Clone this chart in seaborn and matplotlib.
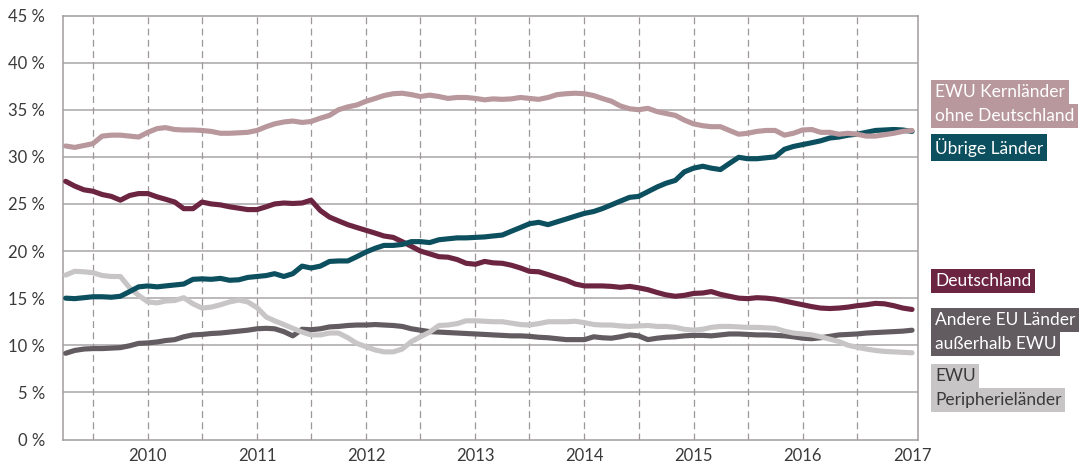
import numpy as np
import pandas as pd
import matplotlib
matplotlib.use("Agg")
import matplotlib.pyplot as plt
import matplotlib.dates as mdates
import seaborn as sns

# ---------------- data (monthly, Apr 2009 - Jan 2017, % share) ----------------
start_month = "2009-04-01"
n_months = 94

kern = [31.15, 31.0, 31.2, 31.4, 32.2, 32.3, 32.3, 32.2, 32.1, 32.6,
        33.0, 33.1, 32.9, 32.85, 32.85, 32.8, 32.7, 32.5, 32.5, 32.55,
        32.6, 32.8, 33.2, 33.5, 33.7, 33.8, 33.65, 33.75, 34.1, 34.4,
        35.0, 35.3, 35.5, 35.9, 36.2, 36.5, 36.7, 36.75, 36.6, 36.4,
        36.55, 36.4, 36.2, 36.3, 36.3, 36.2, 36.05, 36.15, 36.1, 36.15,
        36.3, 36.2, 36.1, 36.3, 36.6, 36.7, 36.75, 36.7, 36.5, 36.2,
        35.9, 35.4, 35.1, 35.0, 35.15, 34.8, 34.6, 34.4, 33.9, 33.5,
        33.3, 33.2, 33.2, 32.8, 32.4, 32.5, 32.7, 32.8, 32.8, 32.3,
        32.5, 32.85, 32.9, 32.6, 32.6, 32.4, 32.5, 32.4, 32.2, 32.2,
        32.35, 32.5, 32.7, 32.8]

uebrige = [15.0, 14.95, 15.05, 15.15, 15.15, 15.1, 15.2, 15.7, 16.2, 16.3,
           16.2, 16.3, 16.4, 16.5, 17.0, 17.05, 17.0, 17.1, 16.9, 16.95,
           17.2, 17.3, 17.4, 17.6, 17.3, 17.6, 18.4, 18.2, 18.4, 18.9,
           18.95, 18.95, 19.4, 19.9, 20.3, 20.6, 20.6, 20.7, 21.0, 21.0,
           20.9, 21.2, 21.3, 21.4, 21.4, 21.45, 21.5, 21.6, 21.7, 22.1,
           22.5, 22.9, 23.05, 22.8, 23.1, 23.4, 23.7, 24.0, 24.2, 24.5,
           24.9, 25.3, 25.7, 25.8, 26.3, 26.8, 27.2, 27.5, 28.4, 28.8,
           29.0, 28.8, 28.65, 29.3, 29.95, 29.8, 29.8, 29.9, 30.0, 30.8,
           31.1, 31.3, 31.5, 31.7, 32.0, 32.1, 32.3, 32.4, 32.6, 32.8,
           32.85, 32.9, 32.85, 32.7]

deutschland = [27.4, 26.9, 26.5, 26.35, 26.0, 25.8, 25.4, 25.9, 26.1, 26.1,
               25.75, 25.5, 25.2, 24.5, 24.5, 25.2, 25.0, 24.9, 24.7, 24.55,
               24.4, 24.4, 24.7, 25.0, 25.1, 25.05, 25.1, 25.4, 24.3, 23.6,
               23.2, 22.8, 22.5, 22.2, 21.9, 21.6, 21.45, 21.0, 20.5, 20.0,
               19.7, 19.4, 19.35, 19.1, 18.7, 18.6, 18.9, 18.75, 18.7, 18.5,
               18.2, 17.85, 17.8, 17.5, 17.2, 16.9, 16.5, 16.3, 16.3, 16.3,
               16.25, 16.15, 16.25, 16.1, 15.9, 15.6, 15.35, 15.2, 15.3, 15.5,
               15.55, 15.7, 15.4, 15.2, 15.0, 14.95, 15.05, 15.0, 14.9, 14.7,
               14.5, 14.3, 14.1, 13.95, 13.9, 13.95, 14.05, 14.2, 14.3, 14.45,
               14.4, 14.2, 13.95, 13.8]

andere_eu = [9.15, 9.45, 9.6, 9.65, 9.65, 9.7, 9.75, 9.95, 10.2, 10.25,
             10.35, 10.5, 10.6, 10.9, 11.1, 11.15, 11.25, 11.3, 11.4, 11.5,
             11.6, 11.75, 11.8, 11.75, 11.45, 11.0, 11.7, 11.65, 11.75, 11.95,
             12.0, 12.1, 12.15, 12.15, 12.2, 12.15, 12.1, 12.0, 11.75, 11.6,
             11.45, 11.4, 11.35, 11.3, 11.25, 11.2, 11.15, 11.1, 11.05, 11.0,
             11.0, 10.95, 10.85, 10.8, 10.7, 10.6, 10.6, 10.6, 10.9, 10.8,
             10.75, 10.9, 11.1, 11.0, 10.6, 10.75, 10.85, 10.9, 11.0, 11.05,
             11.05, 11.0, 11.1, 11.2, 11.2, 11.15, 11.1, 11.1, 11.05, 11.0,
             10.9, 10.75, 10.7, 10.8, 10.95, 11.1, 11.15, 11.2, 11.3, 11.35,
             11.4, 11.45, 11.5, 11.6]

peripherie = [17.45, 17.85, 17.8, 17.7, 17.4, 17.3, 17.3, 16.1, 15.3, 14.6,
              14.5, 14.7, 14.75, 15.05, 14.4, 13.95, 14.05, 14.3, 14.6, 14.8,
              14.6, 14.0, 13.0, 12.6, 12.2, 11.8, 11.4, 11.1, 11.1, 11.3,
              11.3, 10.8, 10.2, 9.85, 9.5, 9.3, 9.3, 9.6, 10.4, 10.9,
              11.4, 12.1, 12.15, 12.3, 12.6, 12.6, 12.55, 12.5, 12.5, 12.35,
              12.2, 12.15, 12.3, 12.5, 12.5, 12.5, 12.55, 12.4, 12.2, 12.15,
              12.15, 12.05, 12.0, 12.05, 12.1, 12.0, 12.0, 11.9, 11.7, 11.6,
              11.7, 11.9, 12.0, 12.0, 11.95, 11.9, 11.9, 11.85, 11.8, 11.5,
              11.3, 11.2, 11.1, 10.9, 10.65, 10.4, 10.0, 9.8, 9.6, 9.45,
              9.35, 9.3, 9.25, 9.2]

series_names = ["Andere EU Länder\naußerhalb EWU", "EWU\nPeripherieländer",
                "Deutschland", "Übrige Länder", "EWU Kernländer\nohne Deutschland"]
series_values = [andere_eu, peripherie, deutschland, uebrige, kern]
colors = ["#625b5f", "#c8c5c6", "#6c2541", "#0c4f5f", "#b8989d"]
label_text_colors = ["white", "#3a3a3a", "white", "white", "white"]

y_ticks = [0, 5, 10, 15, 20, 25, 30, 35, 40, 45]
x_tick_years = [2010, 2011, 2012, 2013, 2014, 2015, 2016, 2017]

# ---------------- build frame ----------------
dates = pd.date_range(start_month, periods=n_months, freq="MS")
frames = []
for name, vals in zip(series_names, series_values):
    frames.append(pd.DataFrame({"Datum": dates, "Anteil": vals, "Serie": name}))
df = pd.concat(frames, ignore_index=True)

sns.set_theme(style="white")
plt.rcParams["font.family"] = ["Lato", "DejaVu Sans"]

fig = plt.figure(figsize=(10.83, 4.66), dpi=100)
ax = fig.add_axes([63 / 1083, 1 - 439.5 / 466, (918 - 63) / 1083, (439.5 - 15.5) / 466])

grid_col = "#aaa5a7"
# horizontal grid
for yv in y_ticks[1:-1]:
    ax.axhline(yv, color=grid_col, lw=1.1, zorder=0)
# dashed verticals at half years
half_years = pd.date_range("2009-07-01", "2016-07-01", freq="6MS")
for d in half_years:
    ax.axvline(d, color="#9d9799", lw=0.9, dashes=(5.5, 3.5), zorder=0)

sns.lineplot(data=df, x="Datum", y="Anteil", hue="Serie", hue_order=series_names,
             palette=colors, linewidth=3.7, legend=False, ax=ax, zorder=3)

ax.set_ylim(0, 45)
ax.set_xlim(pd.Timestamp("2009-03-23"), pd.Timestamp("2017-01-21"))
ax.set_yticks(y_ticks)
ax.set_yticklabels([f"{v} %" for v in y_ticks])
ax.set_xticks([pd.Timestamp(f"{y}-01-01") for y in x_tick_years])
ax.set_xticklabels([str(y) for y in x_tick_years])
ax.set_xlabel("")
ax.set_ylabel("")
ax.tick_params(axis="y", length=0, pad=13, labelsize=12, labelcolor="#3a3a3a")
ax.tick_params(axis="x", length=0, pad=6, labelsize=12, labelcolor="#3a3a3a")
for s in ax.spines.values():
    s.set_visible(True)
    s.set_color("#a29c9f")
    s.set_linewidth(1.1)

# ---------------- right-hand labels (each line its own box) ----------------
label_tops = {  # top of the first line box, in figure pixels
    "EWU Kernländer\nohne Deutschland": 79,
    "Übrige Länder": 134,
    "Deutschland": 268,
    "Andere EU Länder\naußerhalb EWU": 307,
    "EWU\nPeripherieländer": 363,
}
line_h = 23.5
W, H = 1083, 466
for name, col, tcol in zip(series_names, colors, label_text_colors):
    top = label_tops[name]
    lines = name.split("\n")
    for i, ln in enumerate(lines[::-1]):
        idx = len(lines) - 1 - i
        yc = top + line_h * idx + line_h / 2
        fig.text(935 / W, 1 - yc / H, ln, ha="left", va="center_baseline",
                 fontsize=12.5, color=tcol,
                 bbox=dict(boxstyle="square,pad=0.22", fc=col, ec="none"))

fig.savefig("out.png", dpi=100)
